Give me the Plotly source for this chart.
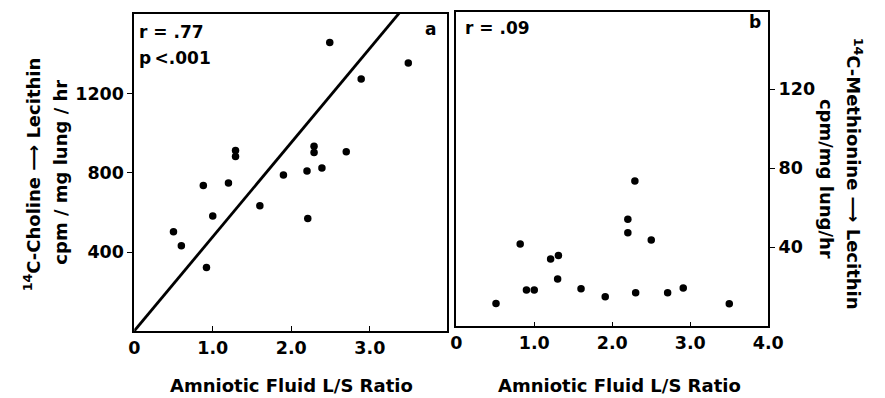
import plotly.graph_objects as go

# ---- data ----
choline_ls = [0.5, 0.6, 0.88, 0.92, 1.0, 1.2, 1.29, 1.29, 1.6, 1.9, 2.2, 2.21, 2.29, 2.29, 2.39, 2.49, 2.7, 2.89, 3.49]
choline_val = [503, 432, 737, 322, 582, 749, 914, 884, 634, 790, 810, 570, 935, 904, 825, 1461, 908, 1276, 1357]
fit_slope = 477
fit_intercept = 0
fit_x = [0, 4]

methionine_ls = [0.51, 0.82, 0.9, 1.0, 1.21, 1.31, 1.3, 1.6, 1.91, 2.2, 2.2, 2.29, 2.3, 2.5, 2.71, 2.91, 3.5]
methionine_val = [11.6, 41.7, 18.4, 18.4, 34.1, 35.8, 23.9, 19.0, 15.0, 54.2, 47.4, 73.6, 17.0, 43.7, 17.0, 19.4, 11.4]

left_xticks = [0, 1, 2, 3]
left_xtext = ["0", "1.0", "2.0", "3.0"]
right_xticks = [0, 1, 2, 3, 4]
right_xtext = ["0", "1.0", "2.0", "3.0", "4.0"]
left_yticks = [400, 800, 1200]
right_yticks = [40, 80, 120]

W, H = 885, 398
FONT = "DejaVu Sans"


def px(x):
    return x / W


def py(y):
    return 1 - y / H


fig = go.Figure()
fig.add_trace(go.Scatter(x=choline_ls, y=choline_val, mode="markers",
                         marker=dict(color="black", size=7.5), xaxis="x", yaxis="y",
                         showlegend=False))
fig.add_trace(go.Scatter(x=fit_x, y=[fit_intercept + fit_slope * v for v in fit_x], mode="lines",
                         line=dict(color="black", width=2.8), xaxis="x", yaxis="y",
                         showlegend=False))
fig.add_trace(go.Scatter(x=methionine_ls, y=methionine_val, mode="markers",
                         marker=dict(color="black", size=7.5), xaxis="x2", yaxis="y2",
                         showlegend=False))

axis_common = dict(showline=True, mirror=True, linecolor="black", linewidth=1.6,
                   showgrid=False, zeroline=False, ticklen=5, tickwidth=1.2, tickcolor="black",
                   tickfont=dict(family=FONT, size=17.5, color="black", weight="bold"))

fig.update_layout(
    width=W, height=H,
    margin=dict(l=0, r=0, t=0, b=0),
    paper_bgcolor="white", plot_bgcolor="white",
    xaxis=dict(domain=[px(131.5), px(452)], range=[0, 3.98], anchor="y",
               tickvals=left_xticks, ticktext=left_xtext, ticks="inside", **axis_common),
    yaxis=dict(domain=[py(331), py(14)], range=[0, 1605], anchor="x",
               tickvals=left_yticks, ticks="outside", **axis_common),
    xaxis2=dict(domain=[px(461.7), px(781.7)], range=[0, 4], anchor="y2",
                tickvals=right_xticks, ticktext=right_xtext, ticks="inside", **axis_common),
    yaxis2=dict(domain=[py(326.3), py(11.5)], range=[0, 159.4], anchor="x2", side="right",
                tickvals=right_yticks, ticks="outside", **axis_common),
)

tf = dict(family=FONT, size=18, color="black", weight="bold")
sf = dict(family=FONT, size=17, color="black", weight="bold")
ann = [
    dict(x=px(293), y=py(385), text="Amniotic Fluid L/S Ratio", font=tf),
    dict(x=px(629), y=py(385), text="Amniotic Fluid L/S Ratio", font=tf),
    dict(x=px(27), y=py(174), text="<sup>14</sup>C-Choline ⟶ Lecithin", font=tf, textangle=-90),
    dict(x=px(55), y=py(172), text="cpm / mg lung / hr", font=tf, textangle=-90),
    dict(x=px(870), y=py(174), text="<sup>14</sup>C-Methionine ⟶ Lecithin", font=tf, textangle=90),
    dict(x=px(842), y=py(179), text="cpm/mg lung/hr", font=tf, textangle=90),
    dict(x=px(134), y=py(32), text="r = .77", font=sf, xanchor="left"),
    dict(x=px(134), y=py(58), text="p\u2009&lt;.001", font=sf, xanchor="left"),
    dict(x=px(435), y=py(29), text="a", font=sf),
    dict(x=px(469), y=py(28), text="r = .09", font=sf, xanchor="left"),
    dict(x=px(768), y=py(22), text="b", font=sf),
]
for a in ann:
    a.setdefault("xanchor", "center")
    fig.add_annotation(xref="paper", yref="paper", yanchor="middle", showarrow=False, **a)

fig.write_html("out.html")
